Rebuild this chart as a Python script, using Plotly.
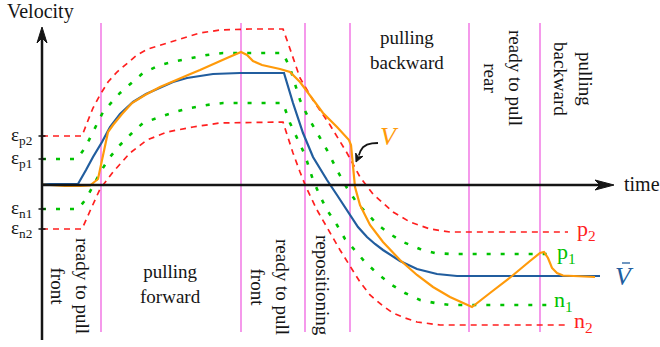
import plotly.graph_objects as go

# ---- data: time measured from the velocity axis, velocity measured from the time axis ----
# mean velocity V-bar
t_mean = [0, 36, 44, 51, 60, 68, 78, 91, 104, 118, 131, 145, 158, 171, 198, 242,
          251, 261, 271, 278, 285, 295, 303, 308, 316, 325, 333, 341, 350, 358, 375, 395, 415, 558]
v_mean = [1, 1, 15, 28, 43, 58, 71, 83, 91, 97, 103, 107, 109, 111, 112, 112,
          82, 52, 28, 16, 5, -10, -22, -30, -42, -52, -59, -65, -71, -76, -84, -89, -91, -91]

# measured velocity V
t_vel = [0, 13, 23, 38, 48, 56, 66, 71, 80, 90, 103, 118, 133, 146, 158, 171, 185, 199,
         205, 211, 220, 238, 248, 258, 268, 281, 295, 307, 309, 311, 313, 318, 328, 341,
         358, 375, 391, 408, 421, 430, 448, 470, 488, 498, 502, 506, 510, 515, 521, 533, 553]
v_vel = [0.5, -0.5, -1, -1, -0.5, 6, 53, 60, 71, 82, 90, 98, 104, 110, 115, 121, 127, 133,
         130, 124, 120, 116, 113, 103, 89, 72, 58, 45, 40, 20, -2, -20, -40, -57,
         -75, -90, -102, -112, -118, -122, -108, -91, -76, -68, -67, -73, -83, -88, -90.5, -91, -92]

# outer positive band (p2)
t_p2 = [0, 40, 45, 51, 58, 66, 75, 85, 95, 106, 118, 135, 158, 178, 208, 241,
        246, 251, 258, 271, 288, 305, 318, 331, 351, 368, 388, 408, 526]
v_p2 = [49, 49, 62, 77, 90, 103, 113, 122, 130, 136, 140, 145, 152, 155, 156, 156,
        142, 127, 107, 85, 60, 32, 8, -9, -27, -37, -44, -47, -47]

# inner positive band (p1)
t_p1 = [0, 35, 43, 51, 61, 78, 101, 118, 135, 165, 181, 198, 241,
        248, 253, 258, 266, 275, 285, 295, 305, 315, 325, 336, 348, 361, 378, 393, 408, 506]
v_p1 = [26, 26, 37, 53, 73, 92, 112, 120, 124, 130, 132, 132, 132,
        117, 102, 85, 68, 52, 35, 15, -3, -18, -29, -40, -49, -57, -64, -68, -69, -69]

# inner negative band (n1)
t_n1 = [0, 36, 44, 51, 59, 68, 78, 90, 101, 118, 133, 148, 165, 181, 198, 241,
        248, 255, 263, 271, 278, 285, 295, 303, 313, 323, 336, 350, 363, 378, 393, 408, 506]
v_n1 = [-24, -24, -14, -1, 14, 28, 40, 52, 62, 68, 73, 77, 80, 82, 82, 82,
        62, 47, 30, 5, -11, -25, -40, -54, -65, -77, -89, -100, -108, -115, -118, -120, -120]

# outer negative band (n2)
t_n2 = [0, 40, 48, 58, 71, 88, 105, 125, 151, 178, 241,
        246, 251, 258, 264, 275, 288, 298, 308, 318, 328, 341, 351, 363, 375, 398, 526]
v_n2 = [-44, -44, -26, -4, 13, 32, 45, 53, 58, 62, 63,
        47, 32, 13, -2, -25, -48, -65, -81, -97, -110, -121, -128, -133, -137, -140, -140]

# phase boundaries and threshold ticks
phase_t = [59, 199, 263, 308, 427, 498]
eps_levels = [v_p2[0], v_p1[0], v_n1[0], v_n2[0]]
eps_names = ["p2", "p1", "n1", "n2"]

FONT = "Liberation Serif"
RED = "#ff1f1f"
GREEN = "#00c200"
BLUE = "#215d9e"
ORANGE = "#ff9a0a"
MAGENTA = "#f380e6"
INK = "#151515"

fig = go.Figure()


def line_trace(xs, ys, color, width, dash=None, fill=False):
    kw = dict(x=xs, y=ys, mode="lines", hoverinfo="skip",
              line=dict(color=color, width=width, dash=dash))
    if fill:
        kw.update(fill="toself", fillcolor=color)
    fig.add_trace(go.Scatter(**kw))


# phase separators
sep_x, sep_y = [], []
for tb in phase_t:
    sep_x += [tb, tb, None]
    sep_y += [-147, 162, None]
line_trace(sep_x, sep_y, MAGENTA, 1.6)

# tolerance bands
line_trace(t_p2, v_p2, RED, 1.7, "6px,5px")
line_trace(t_n2, v_n2, RED, 1.7, "6px,5px")
line_trace(t_p1, v_p1, GREEN, 2.6, "4px,10px")
line_trace(t_n1, v_n1, GREEN, 2.6, "4px,10px")

# mean and measured velocity
line_trace(t_mean, v_mean, BLUE, 2.2)
line_trace(t_vel, v_vel, ORANGE, 2.2)

# axes with stealth arrowheads
line_trace([0, 0], [-155, 147], INK, 2.5)
line_trace([0, 5, 0, -5, 0], [158, 142, 147, 142, 158], INK, 1, fill=True)
line_trace([0, 558], [0, 0], INK, 2.5)
line_trace([572, 553, 558, 553, 572], [0, 5, 0, -5, 0], INK, 1, fill=True)

# threshold ticks
tick_x, tick_y = [], []
for lev in eps_levels:
    tick_x += [-3.5, 3.5, None]
    tick_y += [lev, lev, None]
line_trace(tick_x, tick_y, INK, 1.5)

# curved pointer to V
line_trace([336, 330, 325, 321, 318.5, 316.8], [42, 41.6, 40.3, 37.8, 34, 29.5], INK, 1.8)
line_trace([314, 320.9, 316.3, 313.7, 314], [23, 28.7, 28, 31.9, 23], INK, 1, fill=True)

# bar over the V-bar label
line_trace([580, 588], [-78, -78], BLUE, 1.3)


def label(x, y, text, size=19, color=INK, angle=None, xanchor="center"):
    kw = dict(x=x, y=y, text=text, showarrow=False,
              xanchor=xanchor, yanchor="middle",
              font=dict(family=FONT, size=size, color=color))
    if angle is not None:
        kw["textangle"] = angle
    fig.add_annotation(**kw)


for lev, name in zip(eps_levels, eps_names):
    label(-8, lev, f"ε<sub>{name}</sub>", xanchor="right")

label(-37, 174, "Velocity", size=20, xanchor="left")
label(580, 1, "time", size=20, xanchor="left")

label(28, -101, "ready to pull<br>front", angle=90)
label(128, -99, "pulling<br>forward")
label(228, -102, "ready to pull<br>front", angle=90)
label(281, -100, "repositioning", angle=90)
label(365, 135, "pulling<br>backward")
label(461, 107, "ready to pull<br>rear", angle=90)
label(531, 106, "pulling<br>backward", angle=90)

label(347, 49, "<i>V</i>", size=26, color=ORANGE)
label(582, -91, "<i>V</i>", size=26, color=BLUE)
label(533, -45, "p<sub>2</sub>", size=22, color=RED, xanchor="left")
label(513, -68, "p<sub>1</sub>", size=22, color=GREEN, xanchor="left")
label(510, -116, "n<sub>1</sub>", size=22, color=GREEN, xanchor="left")
label(530, -137, "n<sub>2</sub>", size=22, color=RED, xanchor="left")

fig.update_layout(
    width=660, height=347,
    margin=dict(l=0, r=0, t=0, b=0),
    paper_bgcolor="white", plot_bgcolor="white",
    showlegend=False,
    xaxis=dict(range=[-42, 618], visible=False),
    yaxis=dict(range=[-162, 185], visible=False),
)

fig.write_html("out.html")
